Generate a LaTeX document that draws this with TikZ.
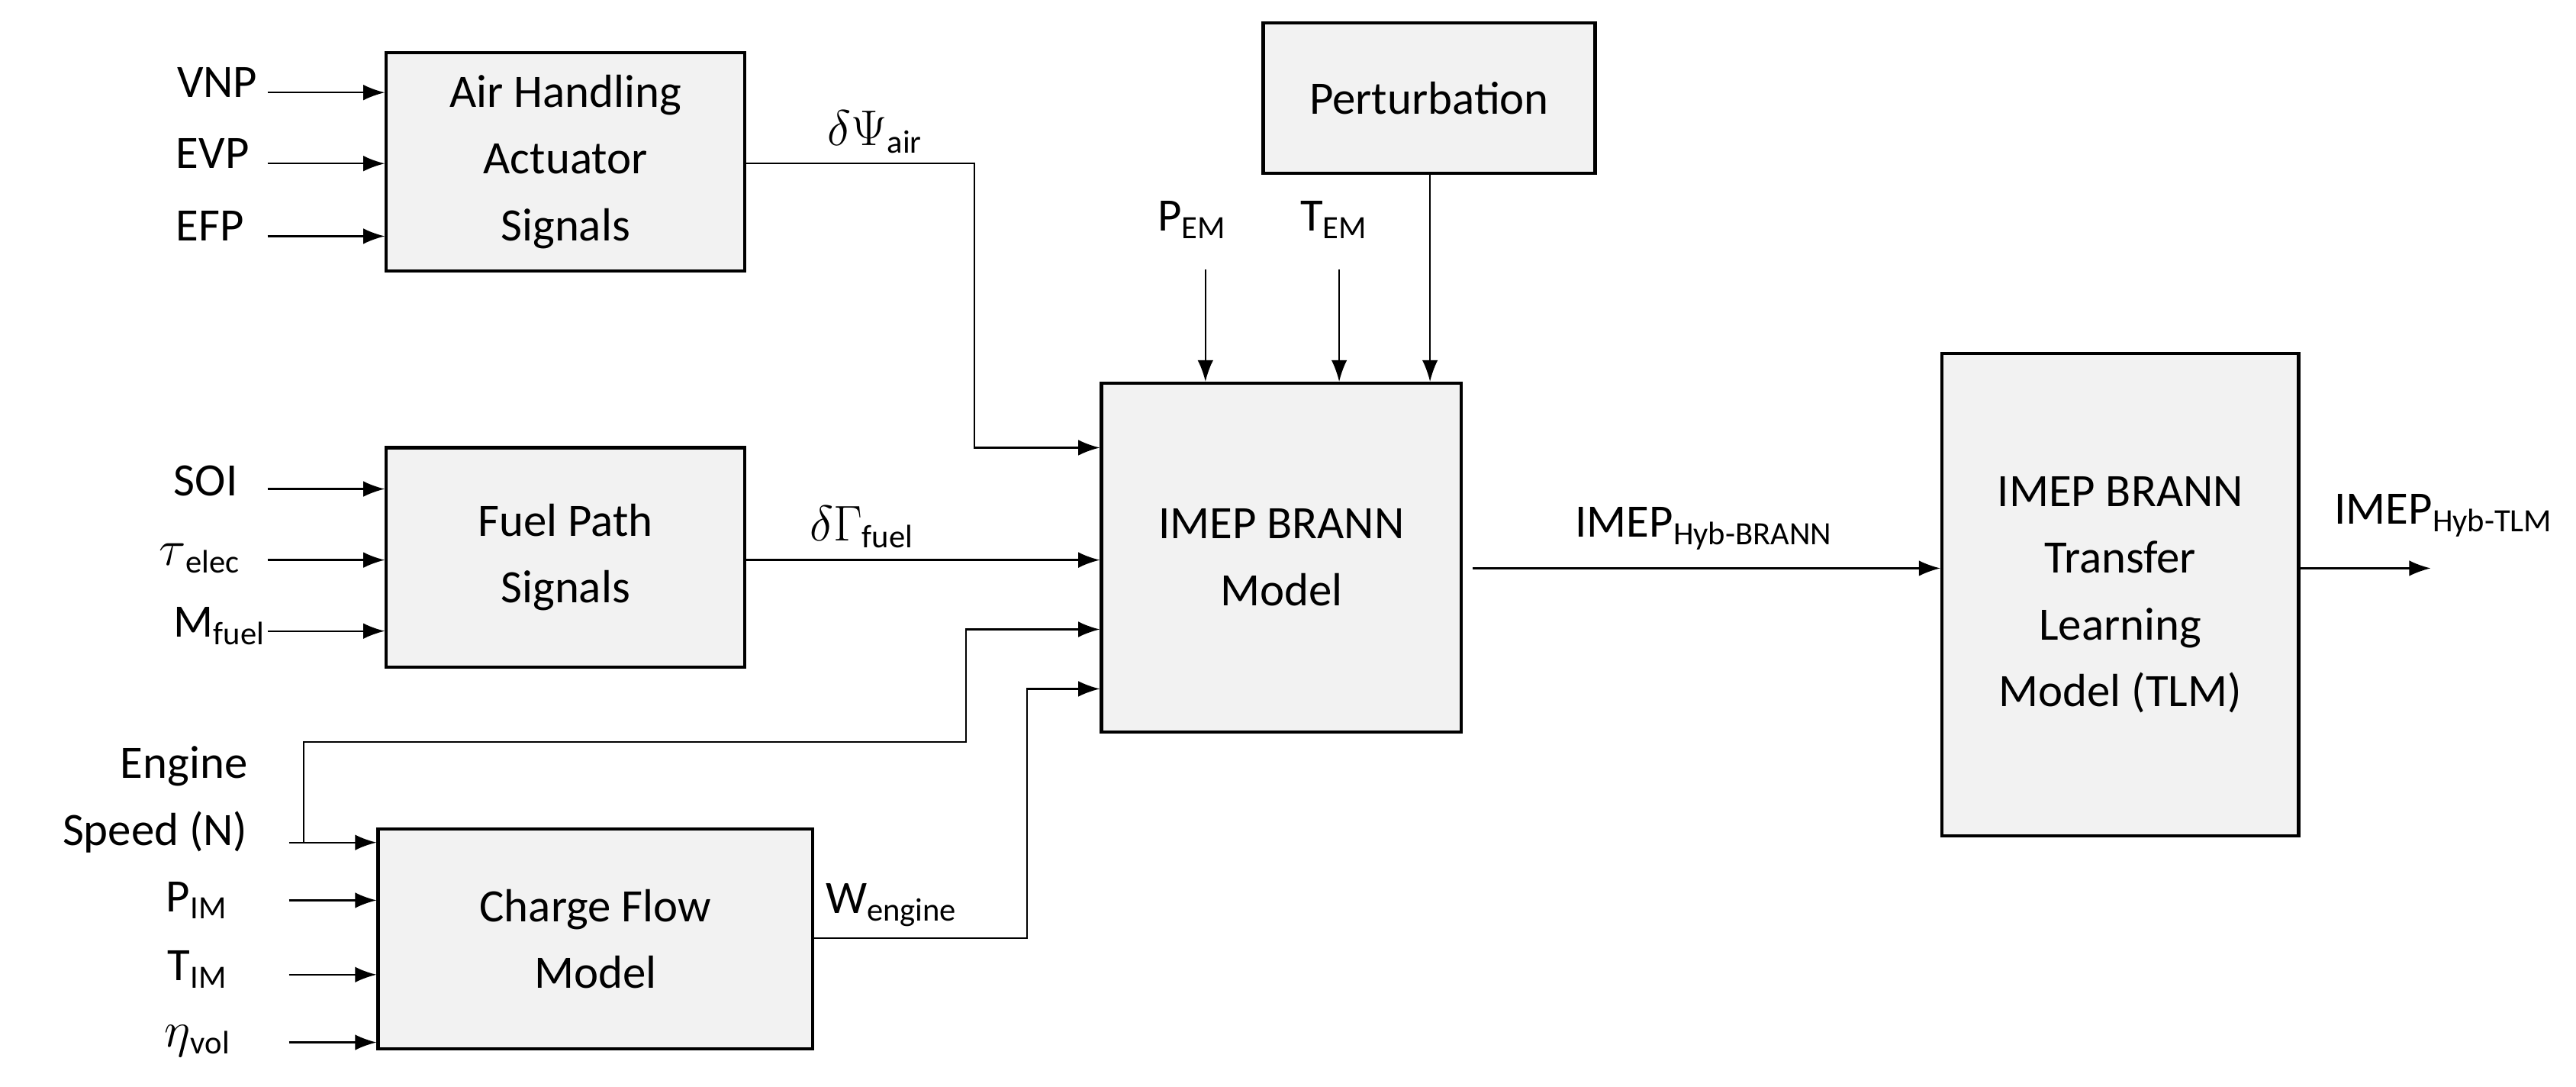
\documentclass[tikz,border=0pt]{standalone}
\usepackage{fontspec}
\setmainfont{Carlito}
\usetikzlibrary{arrows.meta}

\tikzset{
  block/.style={draw,line width=1.1pt,fill=black!5,align=center,inner sep=0pt},
  sig/.style={line width=0.6pt,-{Latex[length=2.6mm,width=1.9mm]}},
  wire/.style={line width=0.6pt},
  lbl/.style={inner sep=1pt},
}

\begin{document}
\begin{tikzpicture}[x=0.02cm,y=-0.02cm,font=\fontsize{16}{23}\selectfont]

\useasboundingbox (0,0) rectangle (1560,658);

% blocks
\node [block,minimum width=217*0.02cm,minimum height=132*0.02cm] (air) at (342.5,98) {Air Handling\\Actuator\\Signals};
\node [block,minimum width=217*0.02cm,minimum height=133*0.02cm] (fuel) at (342.5,337.5) {Fuel Path\\Signals};
\node [block,minimum width=263*0.02cm,minimum height=133*0.02cm] (charge) at (360.5,568.5) {Charge Flow\\Model};
\node [block,minimum width=218*0.02cm,minimum height=211*0.02cm] (imep) at (776,337.5) {IMEP BRANN\\Model};
\node [block,minimum width=201*0.02cm,minimum height=91*0.02cm] (pert) at (865.5,59.5) {Perturbation};
\node [block,minimum width=216*0.02cm,minimum height=292*0.02cm] (tlm) at (1284,360) {IMEP BRANN\\Transfer\\Learning\\Model (TLM)};

% inputs, air handling
\node [lbl,anchor=east] (vnp) at (158,50) {VNP};
\node [lbl,anchor=east] (evp) at (153,93) {EVP};
\node [lbl,anchor=east] (efp) at (150,137) {EFP};
\draw [sig] (162,56) -- (air.west |- 0,56);
\draw [sig] (162,99) -- (air.west |- 0,99);
\draw [sig] (162,143) -- (air.west |- 0,143);

% inputs, fuel path
\node [lbl,anchor=east] (soi) at (146,291) {SOI};
\node [lbl,anchor=east] (tau) at (148,338) {$\tau$\textsubscript{elec}};
\node [lbl,anchor=east] (mfuel) at (163,379) {M\textsubscript{fuel}};
\draw [sig] (162,296) -- (fuel.west |- 0,296);
\draw [sig] (162,339) -- (fuel.west |- 0,339);
\draw [sig] (162,382) -- (fuel.west |- 0,382);

% inputs, charge flow
\node [lbl,anchor=east,align=right] (speed) at (152,484) {Engine\\Speed (N)};
\node [lbl,anchor=east] (pim) at (140,545) {P\textsubscript{IM}};
\node [lbl,anchor=east] (tim) at (140,587) {T\textsubscript{IM}};
\node [lbl,anchor=east] (eta) at (142,630) {$\eta$\textsubscript{vol}};
\draw [sig] (175,510) -- (charge.west |- 0,510);
\draw [sig] (175,545) -- (charge.west |- 0,545);
\draw [sig] (175,590) -- (charge.west |- 0,590);
\draw [sig] (175,631) -- (charge.west |- 0,631);

% engine speed to IMEP model
\coordinate (nA) at (184,510);
\coordinate (nB) at (184,449);
\coordinate (nC) at (585,449);
\coordinate (nD) at (585,381);
\draw [sig] (nA) -- (nB) -- (nC) -- (nD) -- (imep.west |- nD);

% air handling to IMEP model
\coordinate (aA) at (590,99);
\coordinate (aB) at (590,271);
\draw [sig] (air.east |- aA) -- (aA) -- (aB) -- (imep.west |- aB);
\node [lbl] (psi) at (530,80) {$\delta\Psi$\textsubscript{air}};

% fuel path to IMEP model
\draw [sig] (fuel.east |- 0,339) -- (imep.west |- 0,339);
\node [lbl] (gam) at (522,319) {$\delta\Gamma$\textsubscript{fuel}};

% charge flow to IMEP model
\coordinate (wA) at (622,568);
\coordinate (wB) at (622,417);
\draw [sig] (charge.east |- wA) -- (wA) -- (wB) -- (imep.west |- wB);
\node [lbl] (weng) at (540,548) {W\textsubscript{engine}};

% top inputs
\node [lbl] (pem) at (722,133) {P\textsubscript{EM}};
\node [lbl] (tem) at (808,133) {T\textsubscript{EM}};
\draw [sig] (730,163) -- (imep.north -| 730,0);
\draw [sig] (811,163) -- (imep.north -| 811,0);
\draw [sig] (pert.south -| 866,0) -- (imep.north -| 866,0);

% output
\draw [sig] (892,344) -- (tlm.west |- 0,344);
\node [lbl] (hyb) at (1032,320) {IMEP\textsubscript{Hyb-BRANN}};
\coordinate (out) at (1472,344);
\draw [sig] (tlm.east |- out) -- (out);
\node [lbl] (htlm) at (1480,312) {IMEP\textsubscript{Hyb-TLM}};

\end{tikzpicture}
\end{document}
